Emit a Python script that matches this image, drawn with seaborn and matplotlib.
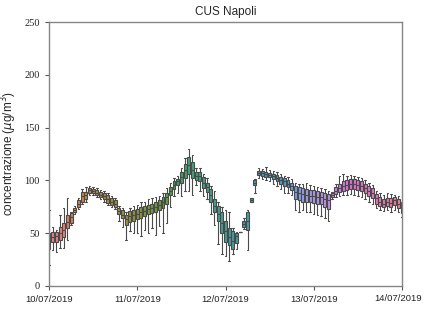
import numpy as np
import pandas as pd
import matplotlib
matplotlib.use("Agg")
import matplotlib.pyplot as plt
import seaborn as sns

# hourly PM10 stats, 10/07/2019 00:00 .. 14/07/2019 00:00 (97 hours)
lo = [20, 34, 32, 36, 36, 44, 58, 68, 73, 78, 80, 86, 86, 84, 82, 80, 77, 75, 73, 62,
      56, 44, 52, 50, 50, 47, 53, 50, 55, 48, 57, 50, 60, 75, 85, 88, 85, 90, 90, 86,
      96, 90, 85, 82, 68, 58, 40, 30, 28, 24, 30, 51, 51, 54, 34, 80, 88, 102, 101, 100,
      99, 97, 95, 92, 88, 88, 86, 72, 70, 72, 70, 70, 68, 67, 66, 64, 62, 82, 84, 85,
      86, 86, 87, 86, 85, 84, 82, 80, 78, 74, 72, 71, 72, 70, 72, 70, 65]
q1 = [35, 42, 42, 44, 46, 55, 60, 70, 75, 80, 82, 88, 88, 86, 84, 82, 79, 77, 75, 68,
      64, 58, 61, 62, 63, 64, 66, 68, 69, 70, 72, 74, 78, 86, 92, 96, 98, 102, 106, 102,
      100, 99, 93, 89, 80, 70, 62, 50, 42, 39, 35, 35, 51, 56, 53, 80, 96, 105, 104, 103,
      103, 101, 99, 97, 95, 94, 91, 82, 81, 80, 80, 80, 79, 78, 78, 75, 73, 84, 87, 89,
      90, 91, 92, 92, 91, 90, 88, 85, 83, 78, 76, 75, 76, 75, 77, 74, 69]
med = [42, 46, 47, 50, 53, 61, 65, 72, 78, 85, 86, 91, 90, 88, 86, 85, 82, 80, 78, 71,
       67, 63, 66, 67, 68, 70, 71, 73, 74, 75, 77, 80, 84, 90, 96, 99, 103, 110, 115, 110,
       104, 104, 98, 94, 86, 76, 68, 60, 52, 46, 43, 41, 51, 59, 62, 81, 98, 107, 107, 106,
       105, 104, 102, 100, 99, 97, 95, 89, 88, 87, 86, 85, 85, 84, 84, 82, 81, 86, 90, 93,
       95, 96, 97, 97, 96, 95, 93, 90, 88, 83, 80, 78, 80, 79, 81, 78, 74]
q3 = [50, 51, 51, 56, 60, 67, 69, 74, 81, 89, 89, 93, 92, 91, 89, 88, 86, 83, 81, 74,
      72, 67, 71, 72, 73, 75, 76, 77, 78, 80, 81, 84, 88, 94, 99, 101, 108, 116, 122, 117,
      108, 108, 103, 98, 92, 82, 76, 70, 62, 55, 52, 47, 51, 62, 70, 83, 100, 109, 109, 108,
      107, 106, 105, 103, 102, 100, 98, 95, 94, 93, 92, 91, 91, 90, 89, 88, 87, 88, 94, 97,
      99, 100, 101, 101, 100, 99, 97, 95, 93, 87, 84, 82, 83, 83, 84, 82, 79]
hi = [72, 56, 53, 67, 74, 83, 70, 76, 83, 92, 94, 95, 94, 93, 91, 90, 88, 85, 83, 76,
      74, 70, 74, 76, 77, 80, 80, 82, 83, 84, 85, 88, 93, 98, 102, 104, 112, 121, 130, 124,
      112, 112, 106, 102, 95, 90, 80, 75, 72, 70, 55, 50, 51, 64, 72, 83, 101, 112, 111, 113,
      110, 109, 108, 106, 104, 103, 101, 98, 97, 97, 98, 96, 95, 94, 93, 92, 90, 89, 97, 104,
      106, 104, 105, 104, 103, 102, 100, 98, 96, 90, 88, 86, 88, 87, 86, 85, 80]

tick_pos = [0, 24, 48, 72, 96]
tick_labels = ["10/07/2019", "11/07/2019", "12/07/2019", "13/07/2019", "14/07/2019"]

rows = []
for h in range(len(med)):
    for v in (lo[h], q1[h], med[h], q3[h], hi[h]):
        rows.append({"ora": h, "conc": v})
df = pd.DataFrame(rows)

sns.set_style("ticks")
plt.rcParams["font.family"] = ["Liberation Sans", "DejaVu Sans"]

fig = plt.figure(figsize=(4.24, 3.11), dpi=100)
ax = fig.add_axes([0.1156, 0.0804, 0.8325, 0.8486])

sns.boxplot(data=df, x="ora", y="conc", hue="ora", palette="husl", legend=False,
            whis=(0, 100), width=0.8, linewidth=0.8, linecolor="#4a4a4a",
            ax=ax)

ax.set_xlim(0, 96)
ax.set_ylim(0, 250)
ax.set_xticks(tick_pos)
# last date is drawn separately, nudged left so it stays on the canvas
ax.set_xticklabels(tick_labels[:-1] + [""], fontsize=6.8)
ax.annotate(tick_labels[-1], xy=(tick_pos[-1], 0), xycoords=("data", "axes fraction"),
            xytext=(-3, -5.5), textcoords="offset points", ha="center", va="top",
            fontsize=6.8, color="#222222", annotation_clip=False)
ax.set_yticks([0, 50, 100, 150, 200, 250])
ax.set_yticklabels(["0", "50", "100", "150", "200", "250"],
                   fontsize=7.5, family="Liberation Serif")
ax.set_xlabel("")
ax.set_ylabel(r"concentrazione ($\mu$g/m$^3$)", fontsize=8.5)
ax.set_title("CUS Napoli", fontsize=8.5, pad=5)

for s in ax.spines.values():
    s.set_color("#858585")
    s.set_linewidth(1.0)
ax.tick_params(colors="#555555", labelcolor="#222222", length=3, width=0.8)

fig.savefig("out.png", dpi=100)
